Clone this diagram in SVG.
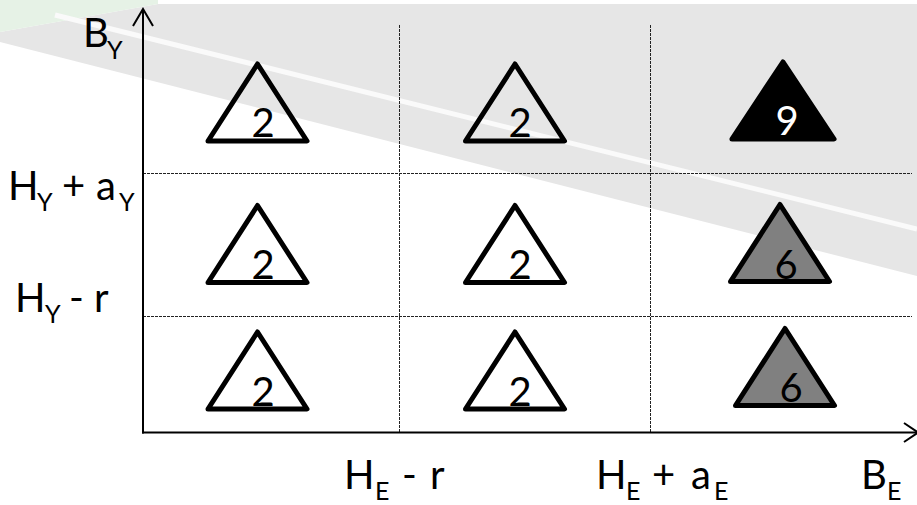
<svg xmlns="http://www.w3.org/2000/svg" width="917" height="505" viewBox="0 0 917 505">
<style>
text{font-family:Lato,"Liberation Sans",sans-serif;fill:#000}
.lbl{font-size:40px}
.sub{font-size:25px}
.num{font-size:40px;text-anchor:middle}
.tri{stroke:#000;stroke-width:5;stroke-linejoin:round}
.grid{stroke:#222;stroke-width:1;stroke-dasharray:3 1;fill:none}
.axis{stroke:#000;stroke-width:2;fill:none}
</style>
<defs>
<path id="tri" d="M0,0 L49.5,77 L-49.5,77 Z"/>
</defs>
<g id="background">
<rect width="917" height="505" fill="#fff"/>
<polygon points="0,32 158,4 917,4 917,276 0,42" fill="#e6e6e6"/>
<polygon points="0,0 158,0 158,4 0,32" fill="#e6f2e6"/>
<line x1="55" y1="15" x2="917" y2="229" stroke="#fafafa" stroke-width="5"/>
</g>
<g id="connectors">
<line class="grid" x1="399.5" y1="25" x2="399.5" y2="432"/>
<line class="grid" x1="650.5" y1="25" x2="650.5" y2="432"/>
<line class="grid" x1="143" y1="173.5" x2="912" y2="173.5"/>
<line class="grid" x1="143" y1="316.5" x2="912" y2="316.5"/>
<line class="axis" x1="143" y1="9" x2="143" y2="433.5"/>
<line class="axis" x1="142" y1="432.5" x2="918" y2="432.5"/>
<polyline class="axis" points="133,26 143,9 153,26"/>
<polyline class="axis" points="904,423 918,432.5 904,442"/>
</g>
<g id="axis-labels">
<text class="lbl" x="83" y="47">B<tspan class="sub" x="107" y="59">Y</tspan></text>
<text class="lbl" x="8" y="200">H<tspan class="sub" x="37" y="211">Y</tspan><tspan x="62" y="200">+</tspan><tspan x="96" y="200">a</tspan><tspan class="sub" x="119" y="211">Y</tspan></text>
<text class="lbl" x="15" y="312">H<tspan class="sub" x="45" y="323">Y</tspan><tspan x="69" y="312">-</tspan><tspan x="94" y="312">r</tspan></text>
<text class="lbl" x="344" y="489">H<tspan class="sub" x="375" y="500">E</tspan><tspan x="402" y="489">-</tspan><tspan x="430" y="489">r</tspan></text>
<text class="lbl" x="596" y="489">H<tspan class="sub" x="626" y="500">E</tspan><tspan x="652" y="489">+</tspan><tspan x="691" y="489">a</tspan><tspan class="sub" x="714" y="500">E</tspan></text>
<text class="lbl" x="861" y="489">B<tspan class="sub" x="887" y="500">E</tspan></text>
</g>
<g id="r1c1"><use href="#tri" class="tri" fill="none" transform="translate(257.5,64)"/><text class="num" x="263" y="137">2</text></g>
<g id="r1c2"><use href="#tri" class="tri" fill="none" transform="translate(515,64)"/><text class="num" x="520" y="137">2</text></g>
<g id="r1c3"><use href="#tri" class="tri" fill="#000" transform="translate(783,62) scale(1.03,1.0)"/><text class="num" x="787" y="135" style="fill:#fff">9</text></g>
<g id="r2c1"><use href="#tri" class="tri" fill="none" transform="translate(257.5,205.5)"/><text class="num" x="263" y="279">2</text></g>
<g id="r2c2"><use href="#tri" class="tri" fill="none" transform="translate(515,205.5)"/><text class="num" x="520" y="279">2</text></g>
<g id="r2c3"><use href="#tri" class="tri" fill="#808080" transform="translate(780,204.5)"/><text class="num" x="786" y="279">6</text></g>
<g id="r3c1"><use href="#tri" class="tri" fill="none" transform="translate(257.5,332)"/><text class="num" x="263" y="406">2</text></g>
<g id="r3c2"><use href="#tri" class="tri" fill="none" transform="translate(515,332)"/><text class="num" x="520" y="406">2</text></g>
<g id="r3c3"><use href="#tri" class="tri" fill="#808080" transform="translate(785,328.5)"/><text class="num" x="791" y="402">6</text></g>
</svg>
